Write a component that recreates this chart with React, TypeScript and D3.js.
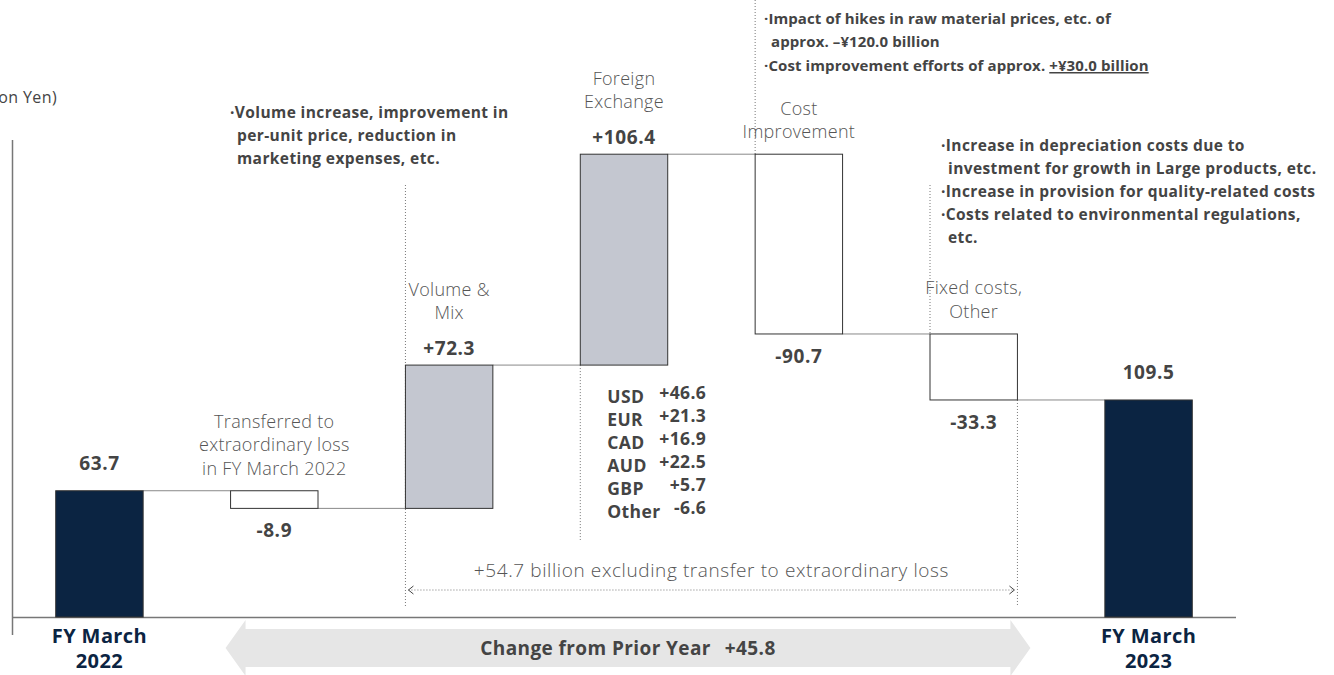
import React from "react";
import * as d3 from "d3";

// operating income bridge, billion yen
const categories = ["FY2022", "Transferred", "Volume", "FX", "Cost", "Fixed", "FY2023"];
const changes = [63.7, -8.9, 72.3, 106.4, -90.7, -33.3, 109.5];
const kinds = ["total", "loss", "gain", "gain", "loss", "loss", "total"];
const valueLabels = ["63.7", "-8.9", "+72.3", "+106.4", "-90.7", "-33.3", "109.5"];
const categoryLabels = [
  [],
  ["Transferred to", "extraordinary loss", "in FY March 2022"],
  ["Volume &", "Mix"],
  ["Foreign", "Exchange"],
  ["Cost", "Improvement"],
  ["Fixed costs,", "Other"],
  [],
];
const periodLabels = [["FY March", "2022"], ["FY March", "2023"]];

const currencies = ["USD", "EUR", "CAD", "AUD", "GBP", "Other"];
const currencyValues = ["+46.6", "+21.3", "+16.9", "+22.5", "+5.7", "-6.6"];

const totalChange = "+45.8";
const excludingText = "+54.7 billion excluding transfer to extraordinary loss";

const W = 1334;
const H = 675;
const NAVY = "#0b2442";
const GRAY_BAR = "#c4c7d0";
const TEXT = "#444";
const FONT = "'Open Sans', 'Noto Sans', sans-serif";

export default function App() {
  const x = d3.scaleBand<string>().domain(categories).range([12, 1236]).paddingInner(0.5).paddingOuter(0.25);
  const y = d3.scaleLinear().domain([0, 100]).range([617, 418.8]);
  const bw = x.bandwidth();

  // running totals for the waterfall
  let run = 0;
  const bars = categories.map((c, i) => {
    let from: number, to: number;
    if (kinds[i] === "total") {
      from = 0;
      to = changes[i];
      run = changes[i];
    } else {
      from = run;
      to = run + changes[i];
      run = to;
    }
    return { c, i, from, to, kind: kinds[i] };
  });

  const xOf = (c: string) => x(c) as number;
  const cx = (c: string) => xOf(c) + bw / 2;
  const dot = { stroke: "#777", strokeWidth: 1, strokeDasharray: "1,2" };

  const fx = bars[3];
  const cost = bars[4];
  const fixed = bars[5];
  const arrowL = xOf("Transferred") - 5;
  const arrowR = xOf("Fixed") + bw + 13;

  const valueY = (b: typeof bars[number]) => {
    if (b.kind === "loss") return y(Math.min(b.from, b.to)) + 29;
    if (b.kind === "total") return y(b.to) - 21;
    return y(Math.max(b.from, b.to)) - 10;
  };

  return (
    <svg width={W} height={H} style={{ position: "absolute", left: 0, top: 0, background: "#fff" }} fontFamily={FONT}>
      <text x={57} y={103} textAnchor="end" fontSize={16} letterSpacing={0.4} fill={TEXT}>(Billion Yen)</text>

      {/* axes */}
      <line x1={12.5} x2={12.5} y1={140} y2={635} stroke="#777" strokeWidth={1.5} />
      <line x1={12} x2={1236} y1={617.5} y2={617.5} stroke="#777" strokeWidth={1.5} />

      {/* dotted guides */}
      <line x1={xOf("Volume")} x2={xOf("Volume")} y1={185} y2={606} {...dot} />
      <line x1={xOf("FX")} x2={xOf("FX")} y1={y(fx.from)} y2={540} {...dot} />
      <line x1={xOf("Cost")} x2={xOf("Cost")} y1={0} y2={y(cost.from)} {...dot} />
      <line x1={xOf("Fixed")} x2={xOf("Fixed")} y1={185} y2={y(fixed.from)} {...dot} />
      <line x1={xOf("Fixed") + bw} x2={xOf("Fixed") + bw} y1={y(fixed.to)} y2={606} {...dot} />

      {/* connectors */}
      {bars.slice(0, -1).map((b, i) => (
        <line key={"c" + i} x1={xOf(b.c) + bw} x2={xOf(bars[i + 1].c)} y1={y(b.to)} y2={y(b.to)} stroke="#888" strokeWidth={1} />
      ))}

      {/* bars */}
      {bars.map((b) => (
        <rect
          key={b.c}
          x={xOf(b.c)}
          width={bw}
          y={y(Math.max(b.from, b.to))}
          height={Math.abs(y(b.from) - y(b.to))}
          fill={b.kind === "total" ? NAVY : b.kind === "gain" ? GRAY_BAR : "#fff"}
          stroke="#333"
          strokeWidth={1}
        />
      ))}

      {/* value labels */}
      {bars.map((b) => (
        <text key={"v" + b.c} x={cx(b.c)} y={valueY(b)} textAnchor="middle" fontSize={19} letterSpacing={0.6} fontWeight={700} fill={TEXT}>
          {valueLabels[b.i]}
        </text>
      ))}

      {/* category labels */}
      {bars.map((b) => {
        const lines = categoryLabels[b.i];
        if (!lines.length) return null;
        const top = y(Math.max(b.from, b.to));
        const last = b.kind === "gain" ? top - 46 : top - 16;
        return (
          <text key={"l" + b.c} textAnchor="middle" fontSize={18} letterSpacing={0.3} fill="#555" fontWeight={300}>
            {lines.map((t, j) => (
              <tspan key={j} x={cx(b.c)} y={last - (lines.length - 1 - j) * 23.5}>{t}</tspan>
            ))}
          </text>
        );
      })}

      {/* period labels */}
      {[bars[0], bars[6]].map((b, k) => (
        <text key={"p" + k} textAnchor="middle" fontSize={20} letterSpacing={0.4} fontWeight={700} fill={NAVY}>
          {periodLabels[k].map((t, j) => (
            <tspan key={j} x={cx(b.c)} y={643 + j * 25}>{t}</tspan>
          ))}
        </text>
      ))}

      {/* currency breakdown */}
      {currencies.map((c, i) => (
        <g key={c} fontSize={17.5} letterSpacing={0.4} fontWeight={700} fill={TEXT}>
          <text x={xOf("FX") + 27} y={403 + i * 23}>{c}</text>
          <text x={xOf("FX") + 126} y={399 + i * 23} textAnchor="end">{currencyValues[i]}</text>
        </g>
      ))}

      {/* excluding transfer arrow */}
      <line x1={xOf("Volume") + 3} x2={xOf("Fixed") + bw - 3} y1={590} y2={590} {...dot} />
      <path d={`M${xOf("Volume") + 8},586 L${xOf("Volume") + 3},590 L${xOf("Volume") + 8},594`} fill="none" stroke="#444" strokeWidth={1} />
      <path d={`M${xOf("Fixed") + bw - 8},586 L${xOf("Fixed") + bw - 3},590 L${xOf("Fixed") + bw - 8},594`} fill="none" stroke="#444" strokeWidth={1} />
      <text x={(xOf("Volume") + xOf("Fixed") + bw) / 2} y={577} textAnchor="middle" fontSize={19} letterSpacing={0.6} fontWeight={300} fill="#555">
        {excludingText}
      </text>

      {/* change from prior year arrow */}
      <path
        d={`M${arrowL},648 L${arrowL + 20},620 L${arrowL + 20},629 L${arrowR - 20},629 L${arrowR - 20},620 L${arrowR},648 L${arrowR - 20},676 L${arrowR - 20},667 L${arrowL + 20},667 L${arrowL + 20},676 Z`}
        fill="#e6e6e6"
      />
      <text x={(arrowL + arrowR) / 2} y={655} textAnchor="middle" fontSize={19} letterSpacing={0.4} fontWeight={700} fill={TEXT}>
        Change from Prior Year<tspan dx={14}>{totalChange}</tspan>
      </text>

      {/* notes */}
      <g fontSize={15.5} letterSpacing={0.4} fontWeight={700} fill={TEXT}>
        <text x={230} y={118}>·Volume increase, improvement in</text>
        <text x={237} y={141}>per-unit price, reduction in</text>
        <text x={237} y={164}>marketing expenses, etc.</text>

        <text x={941} y={151}>·Increase in depreciation costs due to</text>
        <text x={948} y={174}>investment for growth in Large products, etc.</text>
        <text x={941} y={197}>·Increase in provision for quality-related costs</text>
        <text x={941} y={220}>·Costs related to environmental regulations,</text>
        <text x={948} y={243}>etc.</text>
      </g>
      <g fontSize={15} letterSpacing={0.1} fontWeight={700} fill={TEXT}>
        <text x={764} y={24}>·Impact of hikes in raw material prices, etc. of</text>
        <text x={771} y={47}>approx. –¥120.0 billion</text>
        <text x={764} y={71}>
          ·Cost improvement efforts of approx. <tspan style={{ textDecoration: "underline" }}>+¥30.0 billion</tspan>
        </text>
      </g>
    </svg>
  );
}
